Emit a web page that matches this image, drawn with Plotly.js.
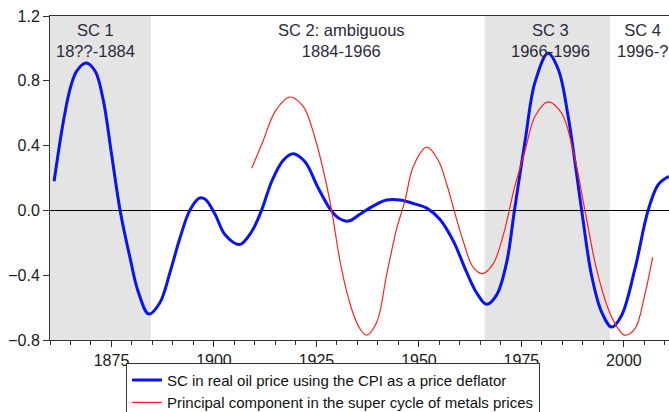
<!DOCTYPE html>
<html>
<head>
<meta charset="utf-8">
<script src="https://cdn.plot.ly/plotly-3.0.1.min.js"></script>
<style>html,body{margin:0;padding:0;background:#fff;}#chart{width:669px;height:412px;}</style>
</head>
<body>
<div id="chart"></div>
<script>
// SC in real oil price using the CPI as a price deflator
const oilYears = [1861, 1863.2, 1864.9, 1866.5, 1868.8, 1871, 1873, 1875, 1877.1, 1879.5, 1881.5, 1884.1, 1886.8, 1889.3, 1891.7, 1894.1, 1896.4, 1897.8, 1900.2, 1902.7, 1906.3, 1909.2, 1911.6, 1914.1, 1916.9, 1919.3, 1922.2, 1925.4, 1928.3, 1930.3, 1932.8, 1935.6, 1938.9, 1942.1, 1945.4, 1948.6, 1951.9, 1955.1, 1958.4, 1961.6, 1964.1, 1966.5, 1969, 1971.4, 1973.3, 1975.9, 1978.3, 1981.5, 1984, 1986.4, 1989.7, 1992.1, 1994.6, 1997, 1999.4, 2002.7, 2005.9, 2008.4, 2011];
const oilValues = [0.18, 0.54, 0.75, 0.86, 0.91, 0.86, 0.68, 0.35, 0.0, -0.29, -0.50, -0.64, -0.57, -0.38, -0.17, 0.0, 0.076, 0.07, -0.02, -0.15, -0.21, -0.13, 0.0, 0.18, 0.31, 0.35, 0.30, 0.14, 0.01, -0.045, -0.066, -0.024, 0.028, 0.064, 0.064, 0.043, 0.014, -0.055, -0.19, -0.38, -0.51, -0.58, -0.52, -0.32, 0.0, 0.43, 0.79, 0.97, 0.87, 0.58, 0.0, -0.40, -0.63, -0.72, -0.65, -0.36, 0.0, 0.16, 0.21];

// Principal component in the super cycle of metals prices
const metalYears = [1909.2, 1912, 1914.9, 1918.5, 1921.8, 1924.6, 1927.1, 1928.7, 1931.1, 1933.6, 1935.6, 1937.2, 1939.7, 1942.1, 1944.6, 1946.6, 1948.6, 1951.9, 1954.7, 1956.8, 1958.8, 1960.8, 1963.2, 1965.5, 1968.1, 1970.6, 1973.3, 1975.9, 1978.3, 1981.5, 1984.8, 1987.6, 1990.5, 1993.3, 1996.2, 1998.6, 2000.2, 2002.7, 2005.1, 2007];
const metalValues = [0.26, 0.43, 0.61, 0.70, 0.64, 0.45, 0.20, 0.0, -0.36, -0.61, -0.73, -0.77, -0.69, -0.40, -0.11, 0.06, 0.27, 0.39, 0.31, 0.16, -0.02, -0.19, -0.35, -0.39, -0.33, -0.15, 0.14, 0.37, 0.58, 0.67, 0.60, 0.37, 0.0, -0.36, -0.61, -0.73, -0.77, -0.73, -0.52, -0.29];

// Super cycle periods (shaded) and labels
const shadedStart = [1860, 1966];
const shadedEnd = [1884.6, 1996.6];
const labelText = ["SC 1<br>18??-1884", "SC 2: ambiguous<br>1884-1966", "SC 3<br>1966-1996", "SC 4<br>1996-?"];
const labelYear = [1871, 1931, 1982, 2004.5];

const yTicks = [-0.8, -0.4, 0.0, 0.4, 0.8, 1.2];
const xTicks = [1875, 1900, 1925, 1950, 1975, 2000];

const font = "Arial, 'Liberation Sans', sans-serif";

const traces = [
  {x: oilYears, y: oilValues, type: 'scatter', mode: 'lines',
   line: {color: '#0a14f0', width: 3, shape: 'spline', smoothing: 1},
   name: 'SC in real oil price using the CPI as a price deflator'},
  {x: metalYears, y: metalValues, type: 'scatter', mode: 'lines',
   line: {color: '#ff2020', width: 1.2, shape: 'spline', smoothing: 1},
   name: 'Principal component in the super cycle of metals prices'}
];

const shapes = shadedStart.map((s, i) => ({
  type: 'rect', xref: 'x', yref: 'paper', x0: s, x1: shadedEnd[i], y0: 0, y1: 1,
  fillcolor: '#e4e4e4', line: {width: 0}, layer: 'below'
}));

const annotations = labelText.map((t, i) => ({
  text: t, x: labelYear[i], y: 1, xref: 'x', yref: 'paper', yanchor: 'top', xanchor: 'center',
  showarrow: false, yshift: -3, font: {family: font, size: 16.5, color: '#2a2a3a'}
}));

const layout = {
  width: 669, height: 412,
  margin: {l: 50, r: 0, t: 16, b: 72, autoexpand: false},
  paper_bgcolor: '#ffffff', plot_bgcolor: '#ffffff',
  showlegend: true,
  legend: {x: 0.1228, y: -0.07,
    xanchor: 'left', yanchor: 'top', orientation: 'v',
    bordercolor: '#333333', borderwidth: 1, bgcolor: '#ffffff',
    font: {family: font, size: 15, color: '#111111'}, tracegroupgap: 0, itemwidth: 30},
  xaxis: {range: [1860, 2011], tickvals: xTicks, ticks: 'outside', ticklen: 6, tickcolor: '#333',
    showline: true, linecolor: '#333', linewidth: 1, mirror: true, showgrid: false, zeroline: false,
    minor: {dtick: 5, tick0: 1860, ticks: 'outside', ticklen: 4, tickcolor: '#333', showgrid: false},
    tickfont: {family: font, size: 16, color: '#1a1a1a'}},
  yaxis: {range: [-0.8, 1.2], tickvals: yTicks, tickformat: '.1f', ticks: 'outside', ticklen: 6, tickcolor: '#333',
    showline: true, linecolor: '#333', linewidth: 1, showgrid: false,
    zeroline: true, zerolinecolor: '#000', zerolinewidth: 1,
    tickfont: {family: font, size: 16, color: '#1a1a1a'}},
  shapes: shapes,
  annotations: annotations
};

Plotly.newPlot('chart', traces, layout, {displayModeBar: false, staticPlot: true});
</script>
</body>
</html>
